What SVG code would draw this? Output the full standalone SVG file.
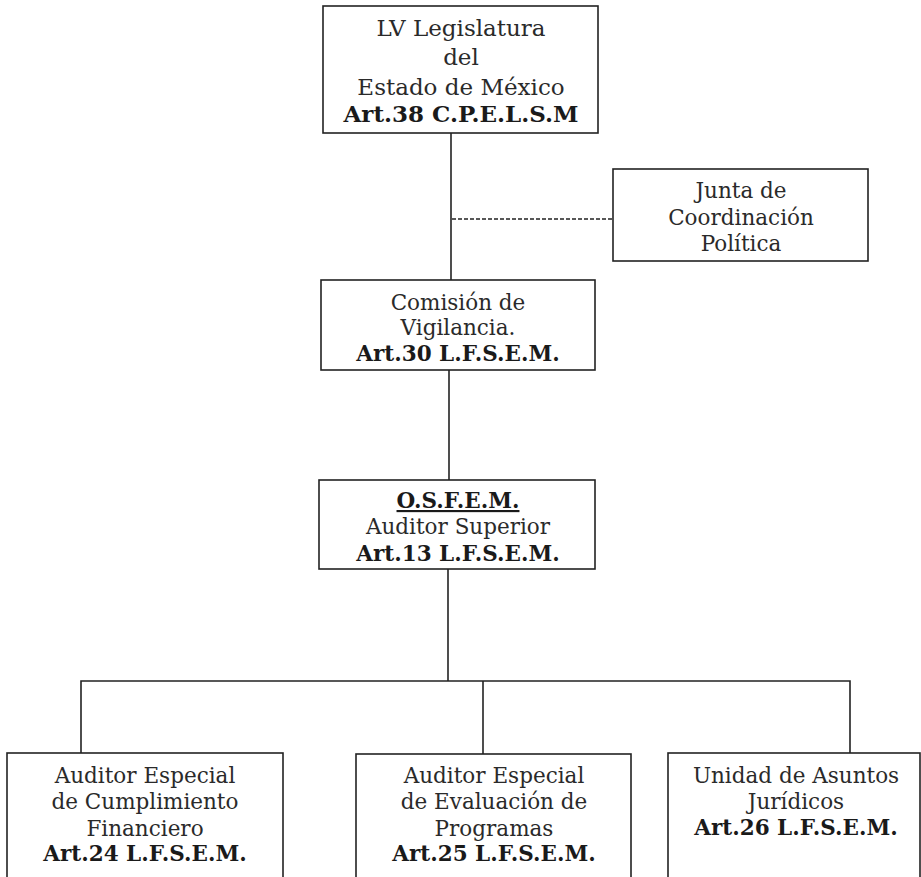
<svg xmlns="http://www.w3.org/2000/svg" width="921" height="877" viewBox="0 0 921 877">
<style>
.box{fill:#fff;stroke:#222;stroke-width:1.6}
.ln{fill:none;stroke:#222;stroke-width:1.6}
.dash{fill:none;stroke:#222;stroke-width:1.4;stroke-dasharray:4 2}
text{font-family:"DejaVu Serif","Liberation Serif",serif;font-size:21.5px;fill:#2a2a2a;text-anchor:middle}
.t{font-size:23px}
.b{font-weight:bold;fill:#1a1a1a}
</style>
<rect width="921" height="877" fill="#fff"/>
<g id="connectors">
<line class="ln" x1="451" y1="133" x2="451" y2="280"/>
<line class="dash" x1="452" y1="219" x2="613" y2="219"/>
<line class="ln" x1="449" y1="370" x2="449" y2="480"/>
<line class="ln" x1="448" y1="569" x2="448" y2="681"/>
<polyline class="ln" points="81,753 81,681 850,681 850,753"/>
<line class="ln" x1="483" y1="681" x2="483" y2="754"/>
</g>
<g id="legislatura">
<rect class="box" x="323" y="6" width="275" height="127"/>
<text class="t" x="461" y="36">LV Legislatura</text>
<text class="t" x="461" y="65">del</text>
<text class="t" x="461" y="95">Estado de México</text>
<text class="t b" x="461" y="122">Art.38 C.P.E.L.S.M</text>
</g>
<g id="junta">
<rect class="box" x="613" y="169" width="255" height="92"/>
<text x="741" y="198">Junta de</text>
<text x="741" y="225">Coordinación</text>
<text x="741" y="251">Política</text>
</g>
<g id="comision">
<rect class="box" x="321" y="280" width="274" height="90"/>
<text x="458" y="310">Comisión de</text>
<text x="458" y="335">Vigilancia.</text>
<text class="b" x="458" y="361">Art.30 L.F.S.E.M.</text>
</g>
<g id="osfem">
<rect class="box" x="319" y="480" width="276" height="89"/>
<text class="b" x="458" y="508" text-decoration="underline">O.S.F.E.M.</text>
<text x="458" y="534">Auditor Superior</text>
<text class="b" x="458" y="561">Art.13 L.F.S.E.M.</text>
</g>
<g id="cumplimiento">
<rect class="box" x="7" y="753" width="276" height="130"/>
<text x="145" y="783">Auditor Especial</text>
<text x="145" y="809">de Cumplimiento</text>
<text x="145" y="836">Financiero</text>
<text class="b" x="145" y="861">Art.24 L.F.S.E.M.</text>
</g>
<g id="evaluacion">
<rect class="box" x="356" y="754" width="275" height="130"/>
<text x="494" y="783">Auditor Especial</text>
<text x="494" y="809">de Evaluación de</text>
<text x="494" y="836">Programas</text>
<text class="b" x="494" y="861">Art.25 L.F.S.E.M.</text>
</g>
<g id="juridicos">
<rect class="box" x="668" y="753" width="252" height="130"/>
<text x="796" y="783">Unidad de Asuntos</text>
<text x="796" y="809">Jurídicos</text>
<text class="b" x="796" y="835">Art.26 L.F.S.E.M.</text>
</g>
</svg>
